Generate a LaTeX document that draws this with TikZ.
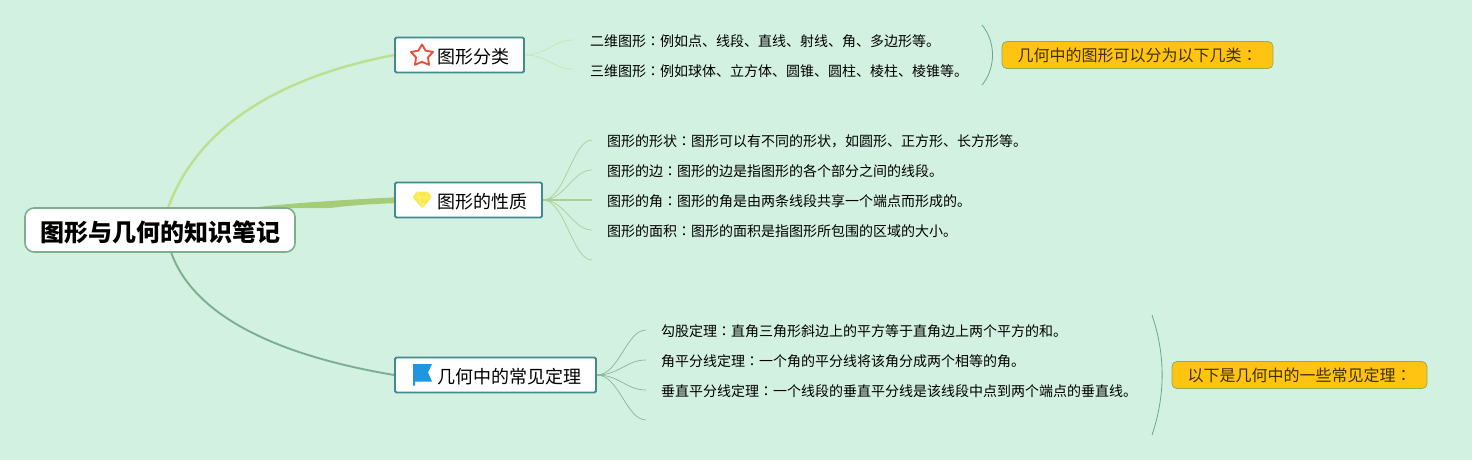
\documentclass[tikz,border=0pt]{standalone}
\usepackage{fontspec}
\setmainfont{Noto Sans CJK SC}
\newfontfamily\tcfont{Noto Sans CJK TC}
\newcommand{\cln}{{\tcfont ：}}
\usetikzlibrary{calc}
\pgfdeclarelayer{bg}
\pgfsetlayers{bg,main}
\definecolor{bgc}{HTML}{D2F1E1}
\definecolor{teal1}{HTML}{3F8B8D}
\definecolor{rootb}{HTML}{7FAE8C}
\definecolor{c1}{HTML}{BCE08E}
\definecolor{c1t}{HTML}{C8E8B4}
\definecolor{c2}{HTML}{A6CC78}
\definecolor{c2t}{HTML}{A8CF94}
\definecolor{c3}{HTML}{7BAF90}
\definecolor{c3t}{HTML}{8DB39A}
\definecolor{amber}{HTML}{FFC312}
\definecolor{amberb}{HTML}{8FAE5C}
\definecolor{bracec}{HTML}{6FA58E}
\definecolor{starc}{HTML}{E8503A}
\definecolor{gemc}{HTML}{FBE84A}
\definecolor{flagc}{HTML}{1E96E0}
\tikzset{
  x=1pt,y=-1pt,
  rootn/.style={draw=rootb,line width=1.6pt,fill=white,rounded corners=9pt,inner sep=0pt},
  roottxt/.style={inner sep=0pt,font=\fontsize{24}{28}\selectfont\bfseries},
  topicn/.style={draw=teal1,line width=1.8pt,fill=white,rounded corners=1.5pt,inner sep=0pt,minimum height=35pt},
  topictxt/.style={anchor=west,inner sep=0pt,font=\fontsize{18}{22}\selectfont},
  leafn/.style={inner sep=0pt,anchor=west,font=\fontsize{14}{17}\selectfont},
  noten/.style={draw=amberb,line width=.8pt,fill=amber,rounded corners=5pt,inner sep=0pt,minimum height=27pt,text=black!75!amber,font=\fontsize{16}{19}\selectfont},
  bracel/.style={draw=bracec,line width=.8pt},
}
% S-shaped twig: #1 start, #2 end, horizontal tangents
\newcommand{\twig}[3]{\draw[#3] (#1) .. controls ($(#1)!.45!(#2 |- #1)$) and ($(#2)!.4!(#1 |- #2)$) .. (#2);}
\begin{document}
\begin{tikzpicture}
\useasboundingbox (0,0) rectangle (1472,460);
% nodes
\node[rootn,minimum width=270pt,minimum height=44pt] (root) at (160,230) {};
\node[roottxt] (roottext) at (160,232) {图形与几何的知识笔记};
\node[topicn,minimum width=129pt] (t1) at (459.5,55) {};
\node[topicn,minimum width=147pt] (t2) at (468.5,200) {};
\node[topicn,minimum width=201pt] (t3) at (495.5,375) {};
\node[topictxt] (t1txt) at (437.5,56.5) {图形分类};
\node[topictxt] (t2txt) at (437.5,201.5) {图形的性质};
\node[topictxt] (t3txt) at (437.5,376.5) {几何中的常见定理};
% leaves
\node[leafn] (a1) at (590,41) {二维图形\cln 例如点、线段、直线、射线、角、多边形等。};
\node[leafn] (a2) at (590,71) {三维图形\cln 例如球体、立方体、圆锥、圆柱、棱柱、棱锥等。};
\node[leafn] (b1) at (607,141) {图形的形状\cln 图形可以有不同的形状，如圆形、正方形、长方形等。};
\node[leafn] (b2) at (607,171) {图形的边\cln 图形的边是指图形的各个部分之间的线段。};
\node[leafn] (b3) at (607,201) {图形的角\cln 图形的角是由两条线段共享一个端点而形成的。};
\node[leafn] (b4) at (607,231) {图形的面积\cln 图形的面积是指图形所包围的区域的大小。};
\node[leafn] (c1n) at (661,331) {勾股定理\cln 直角三角形斜边上的平方等于直角边上两个平方的和。};
\node[leafn] (c2n) at (661,361) {角平分线定理\cln 一个角的平分线将该角分成两个相等的角。};
\node[leafn] (c3n) at (661,391) {垂直平分线定理\cln 一个线段的垂直平分线是该线段中点到两个端点的垂直线。};
% twig free ends
\coordinate (ea1) at (573,40);
\coordinate (ea2) at (573,69);
\coordinate (eb1) at (592,140);
\coordinate (eb2) at (592,170);
\coordinate (eb3) at (592,200);
\coordinate (eb4) at (592,230);
\coordinate (eb5) at (592,260);
\coordinate (ec1) at (646,330);
\coordinate (ec2) at (646,360);
\coordinate (ec3) at (646,390);
\coordinate (ec4) at (646,420);
% notes
\node[noten,minimum width=271pt] (n1) at (1137.5,55) {几何中的图形可以分为以下几类\cln};
\node[noten,minimum width=255pt] (n2) at (1299.5,375) {以下是几何中的一些常见定理\cln};
% brace ends
\coordinate (ba) at (982,25);
\coordinate (bb) at (982,85);
\coordinate (bc) at (1152,315);
\coordinate (bd) at (1152,435);
\coordinate (r1) at (168,208);
\coordinate (r2) at (250,208);
\coordinate (r2b) at (330,208);
\coordinate (r3) at (171,252);
\begin{pgfonlayer}{bg}
\fill[bgc] (0,0) rectangle (1472,460);
% main branches
\draw[c1,line width=2.4pt] (r1) .. controls (200,120) and (290,75) .. (t1.west);
\fill[c2] (r2) .. controls (285,203.5) and (340,200) .. ($(t2.west)+(0,-2.6)$) -- ($(t2.west)+(0,3.2)$) .. controls (370,204) and (350,205.5) .. (r2b) -- cycle;
\draw[c3,line width=1.9pt] (r3) .. controls (193,315) and (275,355) .. (t3.west);
% twigs
\twig{t1.east}{ea1}{c1t,line width=.8pt}
\twig{t1.east}{ea2}{c1t,line width=.8pt}
\twig{t2.east}{eb1}{c2t,line width=.7pt}
\twig{t2.east}{eb2}{c2t,line width=.7pt}
\draw[c2t,line width=1.5pt] (t2.east) -- (eb3);
\twig{t2.east}{eb4}{c2t,line width=.7pt}
\twig{t2.east}{eb5}{c2t,line width=.7pt}
\twig{t3.east}{ec1}{c3t,line width=.7pt}
\twig{t3.east}{ec2}{c3t,line width=.7pt}
\twig{t3.east}{ec3}{c3t,line width=.7pt}
\twig{t3.east}{ec4}{c3t,line width=.7pt}
% braces
\draw[bracel] (ba) .. controls (996,42) and (996,68) .. (bb);
\draw[bracel] (bc) .. controls (1165.5,355) and (1165.5,395) .. (bd);
\end{pgfonlayer}
% icons
\draw[starc,line width=1.9pt,line join=round,fill=white]
  (422,44.5) -- (425.6,50.6) -- (433,52) -- (428,57.4) -- (429,64.8) -- (422,61.8)
  -- (415,64.8) -- (416,57.4) -- (411,52) -- (418.4,50.6) -- cycle;
\fill[gemc,rounded corners=1pt] (417,191.5) -- (427.5,191.5) -- (432,197) -- (422.2,208.5) -- (412.5,197) -- cycle;
\draw[white!55!gemc,line width=.5pt] (412.5,197) -- (432,197) (417,191.5) -- (419,197) -- (422.2,208.5) -- (425.5,197) -- (427.5,191.5);
\fill[flagc] (413,364) -- (432,364) -- (428,372.5) -- (432,381.5) -- (415,381.5) -- (415,385.5) -- (413,385.5) -- cycle;
\end{tikzpicture}
\end{document}
